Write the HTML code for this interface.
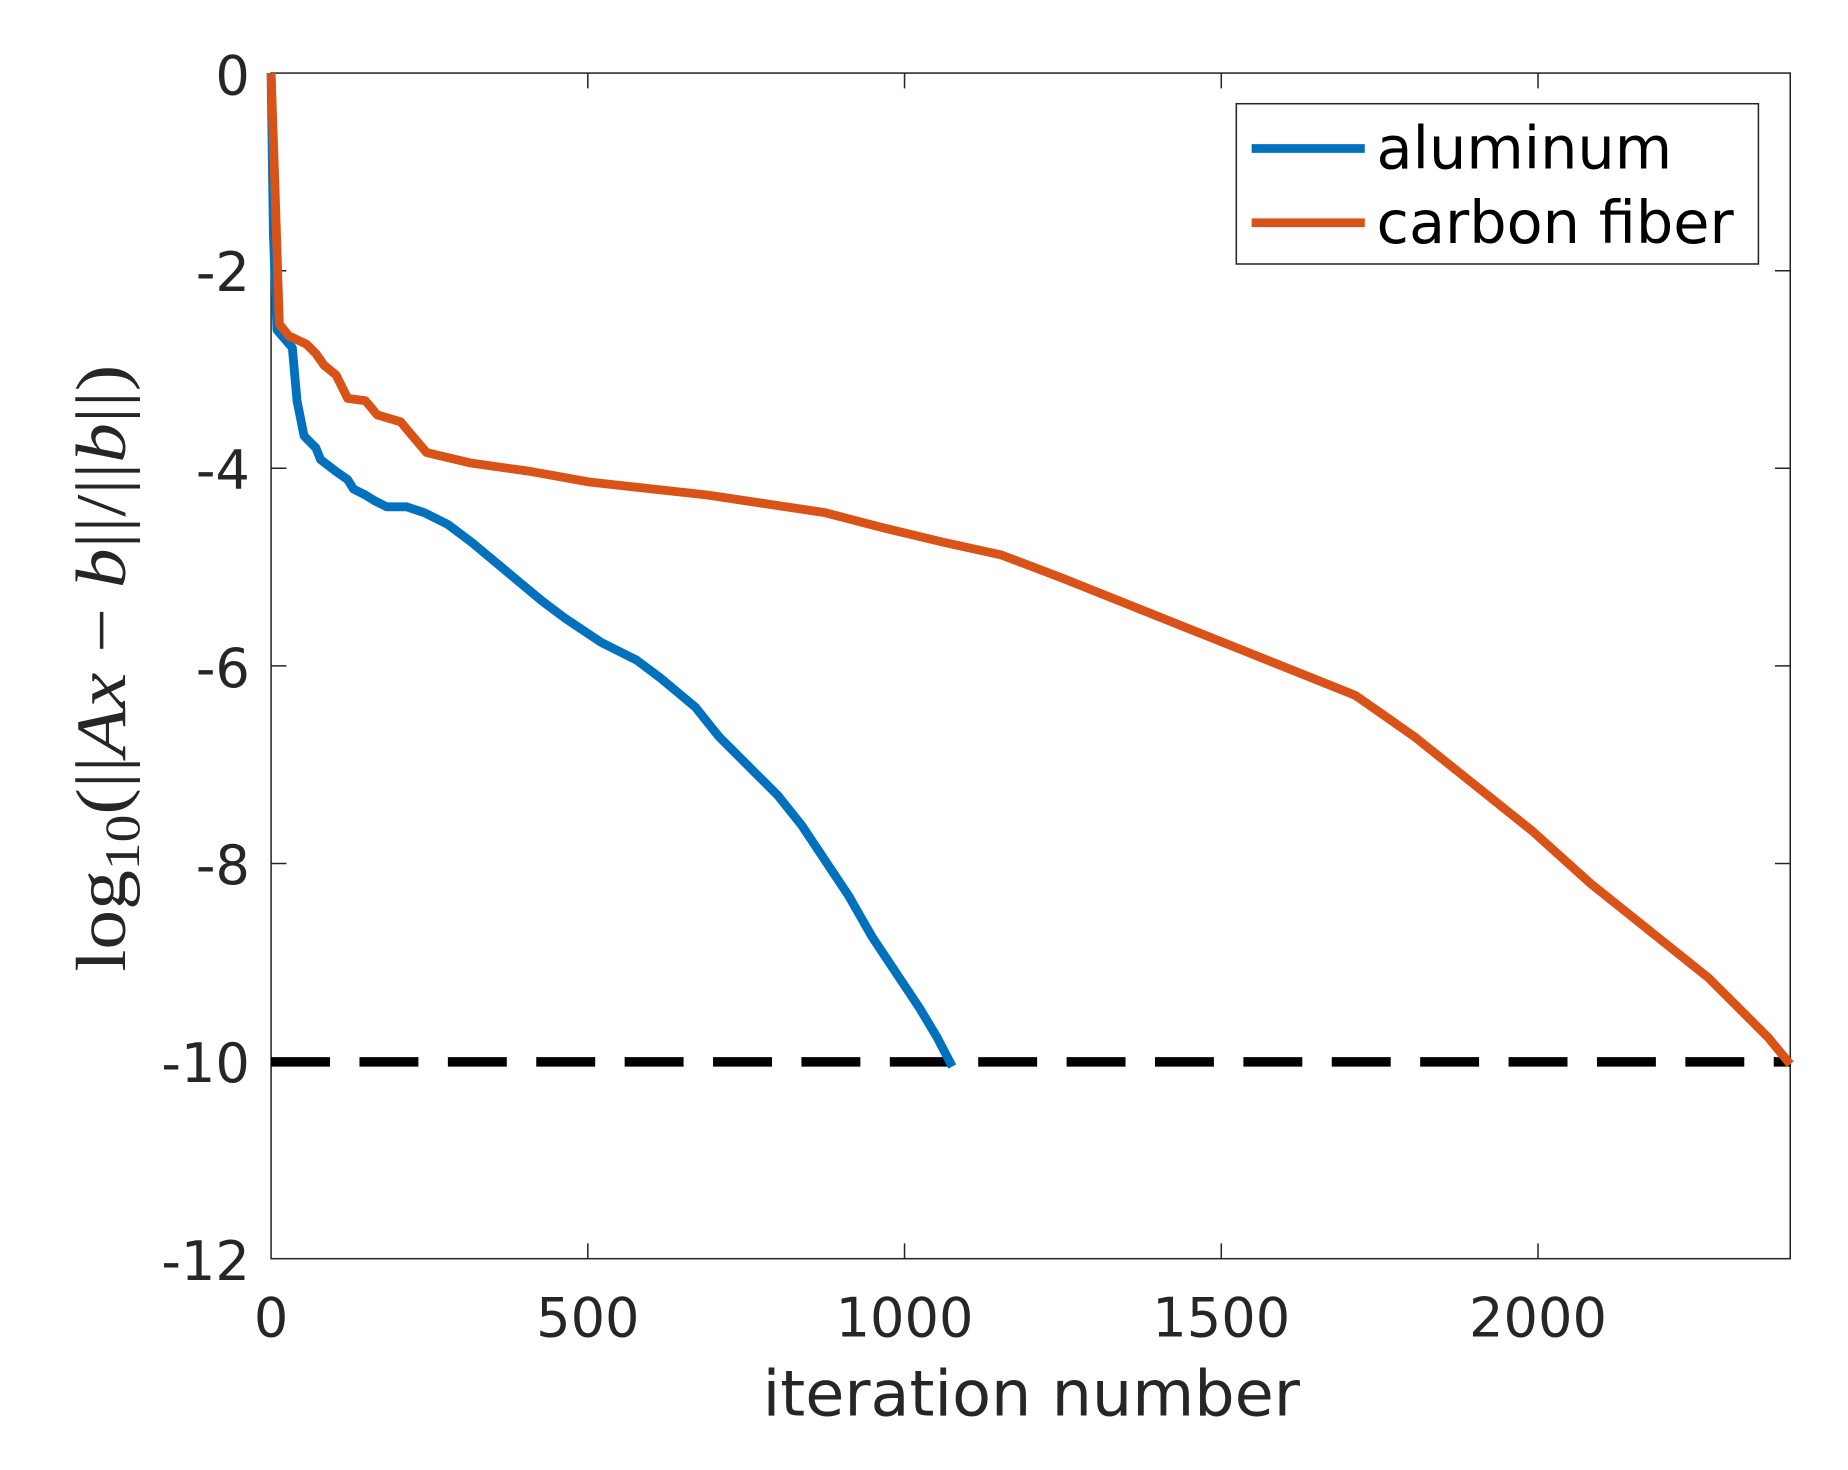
<!DOCTYPE html>
<html><head><meta charset="utf-8"><style>html,body{margin:0;padding:0;background:#fff}svg{display:block}</style></head>
<body>
<svg width="1848" height="1470" viewBox="0 0 1568 1247.3" xmlns="http://www.w3.org/2000/svg" font-family="'DejaVu Sans','Liberation Sans',sans-serif">
<rect width="1568" height="1248" fill="#fff"/>
<g stroke="#262626" stroke-width="1.3" fill="none">
<rect x="230" y="62" width="1289" height="1006"/>
<path d="M230 229.7h13M230 397.3h13M230 565h13M230 732.7h13M230 900.3h13M1519 229.7h-13M1519 397.3h-13M1519 565h-13M1519 732.7h-13M1519 900.3h-13M498.75 1068v-13M767.5 1068v-13M1036.25 1068v-13M1305 1068v-13M498.75 62v13M767.5 62v13M1036.25 62v13M1305 62v13"/>
</g>
<g font-size="46" fill="#262626" text-anchor="end">
<text x="212" y="80">0</text><text x="212" y="247">-2</text><text x="212" y="415">-4</text><text x="212" y="583">-6</text><text x="212" y="750">-8</text><text x="212" y="918">-10</text><text x="212" y="1086">-12</text>
</g>
<g font-size="46" fill="#262626" text-anchor="middle">
<text x="230" y="1134">0</text><text x="498.75" y="1134">500</text><text x="767.5" y="1134">1000</text><text x="1036.25" y="1134">1500</text><text x="1305" y="1134">2000</text>
<text x="875" y="1201" font-size="54">iteration number</text>
</g>
<text transform="translate(106,567) rotate(-90)" text-anchor="middle" font-family="'Liberation Serif',serif" font-size="60" fill="#262626" textLength="515" lengthAdjust="spacingAndGlyphs">log<tspan font-size="42" dy="12">10</tspan><tspan dy="-12">(||<tspan font-style="italic">Ax</tspan> − <tspan font-style="italic">b</tspan>||/||<tspan font-style="italic">b</tspan>||)</tspan></text>
<line x1="230" y1="901" x2="1519" y2="901" stroke="#000" stroke-width="8" stroke-dasharray="50,25"/>
<polyline fill="none" stroke="#0072BD" stroke-width="7.5" stroke-linejoin="round" points="230,62 232,200 235,280 248,295 252,340 258,370 268,380 272,390 285,400 295,407 300,415 310,420 318,425 328,430 345,430 360,435 370,440 380,445 400,460 430,485 460,510 480,525 510,545 540,560 560,575 590,600 610,625 640,655 660,675 680,700 700,730 720,760 740,795 760,825 780,855 795,880 808,905"/>
<polyline fill="none" stroke="#D95319" stroke-width="7.5" stroke-linejoin="round" points="230,62 233,150 237,275 245,285 260,292 268,300 275,310 285,318 295,338 310,340 320,352 340,358 350,370 362,384 400,393 450,400 500,409 600,420 700,435 750,448 800,460 850,471 900,490 950,510 1000,530 1050,550 1100,570 1150,590 1200,625 1250,665 1300,705 1350,750 1400,790 1450,830 1500,880 1519,903"/>
<rect x="1049" y="88" width="443" height="136" fill="#fff" stroke="#262626" stroke-width="1.3"/>
<line x1="1062" y1="126" x2="1158" y2="126" stroke="#0072BD" stroke-width="7.5"/>
<line x1="1062" y1="189" x2="1158" y2="189" stroke="#D95319" stroke-width="7.5"/>
<g font-size="50" fill="#000"><text x="1168" y="143">aluminum</text><text x="1168" y="206">carbon fiber</text></g>
</svg>
</body></html>
